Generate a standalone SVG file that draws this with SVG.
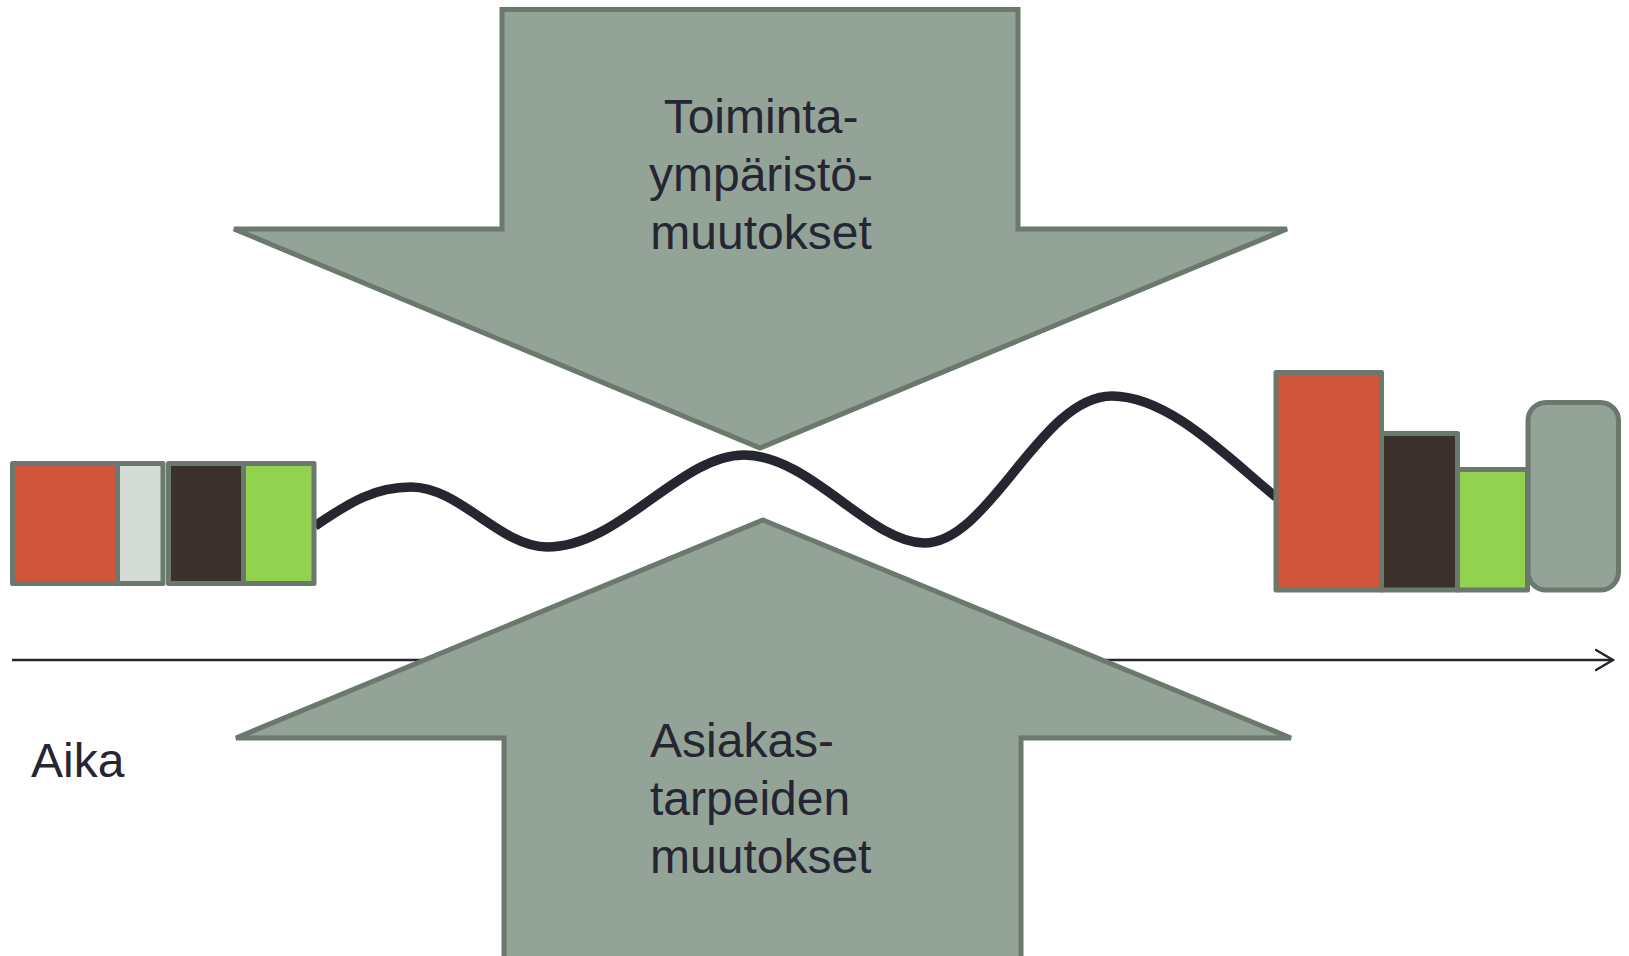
<svg xmlns="http://www.w3.org/2000/svg" width="1629" height="956" viewBox="0 0 1629 956">
<defs>
<style>
.arrow{fill:#93a397;stroke:#6b786e;stroke-width:5;stroke-linejoin:miter}
.blk{stroke:#6b786e;stroke-width:5;stroke-linejoin:round}
.lbl{font-family:"Liberation Sans",Arial,sans-serif;font-size:48px;fill:#262632}
</style>
<marker id="chev" viewBox="0 0 20 24" refX="18" refY="12" markerWidth="20" markerHeight="24" markerUnits="userSpaceOnUse" orient="auto">
<path d="M1,2 L18,12 L1,22" fill="none" stroke="#262630" stroke-width="2.5" stroke-linecap="round"/>
</marker>
</defs>
<rect width="1629" height="956" fill="#ffffff"/>
<g id="connectors">
<line x1="12" y1="660" x2="1613" y2="660" stroke="#262630" stroke-width="2.5" marker-end="url(#chev)"/>
</g>
<g id="arrow-top">
<polygon class="arrow" points="502,9.5 1018,9.5 1018,229 1287,229 760,448 234,229 502,229"/>
<text class="lbl" x="761" y="133" text-anchor="middle">Toiminta-</text>
<text class="lbl" x="761" y="191" text-anchor="middle">ympäristö-</text>
<text class="lbl" x="761" y="249" text-anchor="middle">muutokset</text>
</g>
<g id="arrow-bottom">
<polygon class="arrow" points="763,520 1291,738 1021,738 1021,962 504,962 504,738 236,738"/>
<text class="lbl" x="650" y="757">Asiakas-</text>
<text class="lbl" x="650" y="815">tarpeiden</text>
<text class="lbl" x="650" y="873">muutokset</text>
</g>
<g id="wave">
<path d="M315,526 C350,502 375,487 411,487 C460,487 500,547 547,547 C620,547 680,455 744,455 C810,455 870,543 924,543 C990,543 1040,396 1112,396 C1170,396 1230,460 1276,497" fill="none" stroke="#262630" stroke-width="9.5"/>
</g>
<g id="blocks-left">
<rect class="blk" x="12.5" y="463.5" width="105" height="120" fill="#d0553b"/>
<rect class="blk" x="117.5" y="463.5" width="45.5" height="120" fill="#d5dbd7"/>
<rect class="blk" x="168.5" y="463.5" width="75" height="120" fill="#3a312c"/>
<rect class="blk" x="243.5" y="463.5" width="70.5" height="120" fill="#93d150"/>
</g>
<g id="blocks-right">
<rect class="blk" x="1276" y="372.5" width="105.5" height="217.5" fill="#d0553b"/>
<rect class="blk" x="1381.5" y="433.5" width="76" height="156.5" fill="#3a312c"/>
<rect class="blk" x="1457.5" y="469.5" width="70" height="120.5" fill="#93d150"/>
<rect class="blk" x="1528" y="402.5" width="90.5" height="187.5" rx="18" fill="#93a397"/>
</g>
<g id="time-label">
<text class="lbl" x="31" y="777">Aika</text>
</g>
</svg>
